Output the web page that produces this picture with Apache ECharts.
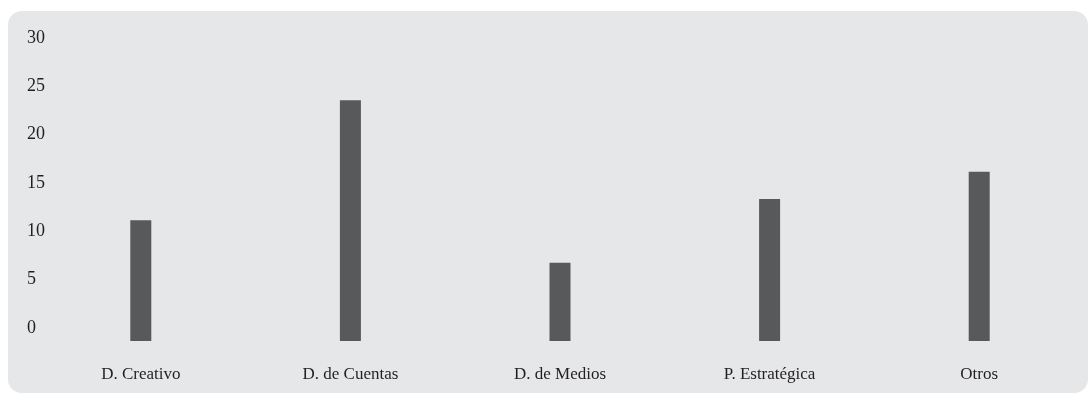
<!DOCTYPE html>
<html>
<head>
<meta charset="utf-8">
<script src="https://cdn.jsdelivr.net/npm/echarts@6/dist/echarts.min.js"></script>
<style>
  html, body { margin: 0; padding: 0; background: #ffffff; }
  #chart { width: 1090px; height: 394px; }
</style>
</head>
<body>
<div id="chart"></div>
<script>
// Areas and their share (%)
const categories = ['D. Creativo', 'D. de Cuentas', 'D. de Medios', 'P. Estratégica', 'Otros'];
const values = [12.5, 24.9, 8.1, 14.7, 17.5];
const yTicks = { min: 0, max: 30, interval: 5 };

const font = '"Liberation Serif", "DejaVu Serif", serif';
const chart = echarts.init(document.getElementById('chart'), null, { renderer: 'canvas' });

chart.setOption({
  animation: false,
  backgroundColor: '#ffffff',
  graphic: [{
    type: 'rect',
    left: 8, top: 11, z: -10,
    shape: { width: 1080, height: 382, r: 14 },
    style: { fill: '#e6e7e8' }
  }],
  grid: { left: 36, right: 6, top: 51, bottom: 53 },
  xAxis: {
    type: 'category',
    data: categories,
    axisLine: { show: false },
    axisTick: { show: false },
    axisLabel: { color: '#231f20', fontFamily: font, fontSize: 17, margin: 25 }
  },
  yAxis: {
    type: 'value',
    min: yTicks.min, max: yTicks.max, interval: yTicks.interval,
    axisLine: { show: false },
    axisTick: { show: false },
    splitLine: { show: false },
    axisLabel: {
      color: '#231f20', fontFamily: font, fontSize: 18,
      align: 'left', margin: 9,
      verticalAlign: 'bottom', lineHeight: 26
    }
  },
  series: [{
    type: 'bar',
    data: values,
    barWidth: 21,
    itemStyle: { color: '#58595b' }
  }]
});
</script>
</body>
</html>
